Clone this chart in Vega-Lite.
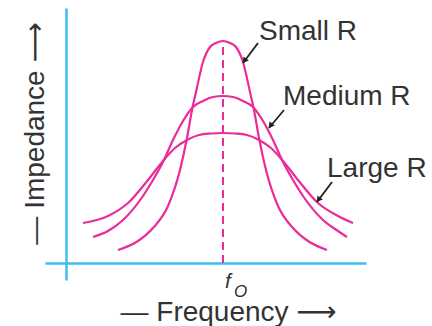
{
  "$schema": "https://vega.github.io/schema/vega-lite/v6.json",
  "width": 321,
  "height": 272,
  "autosize": {"type": "none"},
  "padding": {"left": 45, "top": 8, "right": 66, "bottom": 46},
  "background": "white",
  "config": {"view": {"stroke": null}},
  "datasets": {
    "curves": [
      {"c": "Small R", "f": 52, "z": 13}, {"c": "Small R", "f": 72, "z": 22}, {"c": "Small R", "f": 87, "z": 35},
      {"c": "Small R", "f": 102, "z": 57}, {"c": "Small R", "f": 114, "z": 93}, {"c": "Small R", "f": 121, "z": 125},
      {"c": "Small R", "f": 126, "z": 153}, {"c": "Small R", "f": 130, "z": 171}, {"c": "Small R", "f": 137, "z": 201},
      {"c": "Small R", "f": 144, "z": 216}, {"c": "Small R", "f": 150, "z": 220}, {"c": "Small R", "f": 157, "z": 222},
      {"c": "Small R", "f": 164, "z": 220}, {"c": "Small R", "f": 170, "z": 216}, {"c": "Small R", "f": 177, "z": 201},
      {"c": "Small R", "f": 184, "z": 171}, {"c": "Small R", "f": 188, "z": 153}, {"c": "Small R", "f": 193, "z": 125},
      {"c": "Small R", "f": 200, "z": 93}, {"c": "Small R", "f": 212, "z": 57}, {"c": "Small R", "f": 227, "z": 35},
      {"c": "Small R", "f": 242, "z": 22}, {"c": "Small R", "f": 261, "z": 13},
      {"c": "Medium R", "f": 27, "z": 26}, {"c": "Medium R", "f": 42, "z": 32}, {"c": "Medium R", "f": 57, "z": 43},
      {"c": "Medium R", "f": 77, "z": 67}, {"c": "Medium R", "f": 87, "z": 83}, {"c": "Medium R", "f": 97, "z": 101},
      {"c": "Medium R", "f": 107, "z": 123}, {"c": "Medium R", "f": 117, "z": 142}, {"c": "Medium R", "f": 127, "z": 156},
      {"c": "Medium R", "f": 137, "z": 162}, {"c": "Medium R", "f": 147, "z": 166}, {"c": "Medium R", "f": 157, "z": 167},
      {"c": "Medium R", "f": 167, "z": 166}, {"c": "Medium R", "f": 177, "z": 162}, {"c": "Medium R", "f": 187, "z": 156},
      {"c": "Medium R", "f": 197, "z": 142}, {"c": "Medium R", "f": 207, "z": 123}, {"c": "Medium R", "f": 217, "z": 101},
      {"c": "Medium R", "f": 227, "z": 83}, {"c": "Medium R", "f": 237, "z": 67}, {"c": "Medium R", "f": 257, "z": 43},
      {"c": "Medium R", "f": 272, "z": 32}, {"c": "Medium R", "f": 281, "z": 26},
      {"c": "Large R", "f": 17, "z": 40}, {"c": "Large R", "f": 42, "z": 47}, {"c": "Large R", "f": 62, "z": 60},
      {"c": "Large R", "f": 82, "z": 83}, {"c": "Large R", "f": 97, "z": 102}, {"c": "Large R", "f": 109, "z": 115},
      {"c": "Large R", "f": 121, "z": 123}, {"c": "Large R", "f": 133, "z": 128}, {"c": "Large R", "f": 145, "z": 129.5},
      {"c": "Large R", "f": 157, "z": 130}, {"c": "Large R", "f": 169, "z": 129.5}, {"c": "Large R", "f": 181, "z": 128},
      {"c": "Large R", "f": 193, "z": 123}, {"c": "Large R", "f": 205, "z": 115}, {"c": "Large R", "f": 217, "z": 102},
      {"c": "Large R", "f": 232, "z": 83}, {"c": "Large R", "f": 252, "z": 60}, {"c": "Large R", "f": 272, "z": 47},
      {"c": "Large R", "f": 287, "z": 40}
    ],
    "resonance": [{"f": 157, "z": 0, "z2": 222}],
    "pointers": [
      {"c": "Small R", "f": 192, "z": 220, "f2": 177, "z2": 200},
      {"c": "Medium R", "f": 218, "z": 153, "f2": 203, "z2": 135},
      {"c": "Large R", "f": 266, "z": 81, "f2": 251, "z2": 61}
    ],
    "heads": [
      {"c": "Small R", "f": 179, "z": 203},
      {"c": "Medium R", "f": 205, "z": 138},
      {"c": "Large R", "f": 253, "z": 64}
    ],
    "names": [
      {"c": "Small R", "f": 193, "z": 223},
      {"c": "Medium R", "f": 217, "z": 158},
      {"c": "Large R", "f": 261, "z": 86}
    ],
    "fsym": [{"t": "f", "f": 159, "z": -25}],
    "fsub": [{"t": "O", "f": 168, "z": -34}]
  },
  "encoding": {
    "x": {
      "field": "f", "type": "quantitative",
      "scale": {"domain": [-21, 300], "nice": false, "zero": false},
      "axis": {
        "offset": -17, "domain": true, "domainColor": "#3dbdf0", "domainWidth": 2.5,
        "ticks": false, "labels": false, "grid": false,
        "title": "— Frequency ⟶", "titleFont": "Liberation Sans, DejaVu Sans", "titleFontSize": 28,
        "titleFontWeight": "normal", "titleColor": "#333333", "titleX": 183, "titleY": 57,
        "titleBaseline": "alphabetic", "titleAlign": "center"
      }
    },
    "y": {
      "field": "z", "type": "quantitative",
      "scale": {"domain": [-17, 255], "nice": false, "zero": false},
      "axis": {
        "offset": -21, "domain": true, "domainColor": "#3dbdf0", "domainWidth": 2.5,
        "ticks": false, "labels": false, "grid": false,
        "title": "— Impedance ⟶", "titleFont": "Liberation Sans, DejaVu Sans", "titleFontSize": 28,
        "titleFontWeight": "normal", "titleColor": "#333333", "titleX": -23, "titleY": 125,
        "titleBaseline": "alphabetic", "titleAlign": "center", "titleAngle": -90
      }
    }
  },
  "layer": [
    {
      "data": {"name": "curves"},
      "mark": {"type": "line", "interpolate": "monotone", "color": "#ec2a98", "strokeWidth": 2.2},
      "encoding": {"detail": {"field": "c"}}
    },
    {
      "data": {"name": "resonance"},
      "mark": {"type": "rule", "color": "#ec2a98", "strokeWidth": 2, "strokeDash": [8, 5]},
      "encoding": {"y2": {"field": "z2"}}
    },
    {
      "data": {"name": "pointers"},
      "mark": {"type": "rule", "color": "#222222", "strokeWidth": 1.8},
      "encoding": {"x2": {"field": "f2"}, "y2": {"field": "z2"}}
    },
    {
      "data": {"name": "heads"},
      "mark": {"type": "point", "shape": "triangle", "filled": true, "color": "#222222", "size": 45, "angle": 217, "opacity": 1}
    },
    {
      "data": {"name": "names"},
      "mark": {"type": "text", "align": "left", "baseline": "alphabetic", "font": "Liberation Sans", "fontSize": 28, "color": "#333333"},
      "encoding": {"text": {"field": "c"}}
    },
    {
      "data": {"name": "fsym"},
      "mark": {"type": "text", "align": "left", "baseline": "alphabetic", "font": "Liberation Sans", "fontSize": 21, "fontStyle": "italic", "color": "#333333"},
      "encoding": {"text": {"field": "t"}}
    },
    {
      "data": {"name": "fsub"},
      "mark": {"type": "text", "align": "left", "baseline": "alphabetic", "font": "Liberation Sans", "fontSize": 17, "fontStyle": "italic", "color": "#333333"},
      "encoding": {"text": {"field": "t"}}
    }
  ]
}
